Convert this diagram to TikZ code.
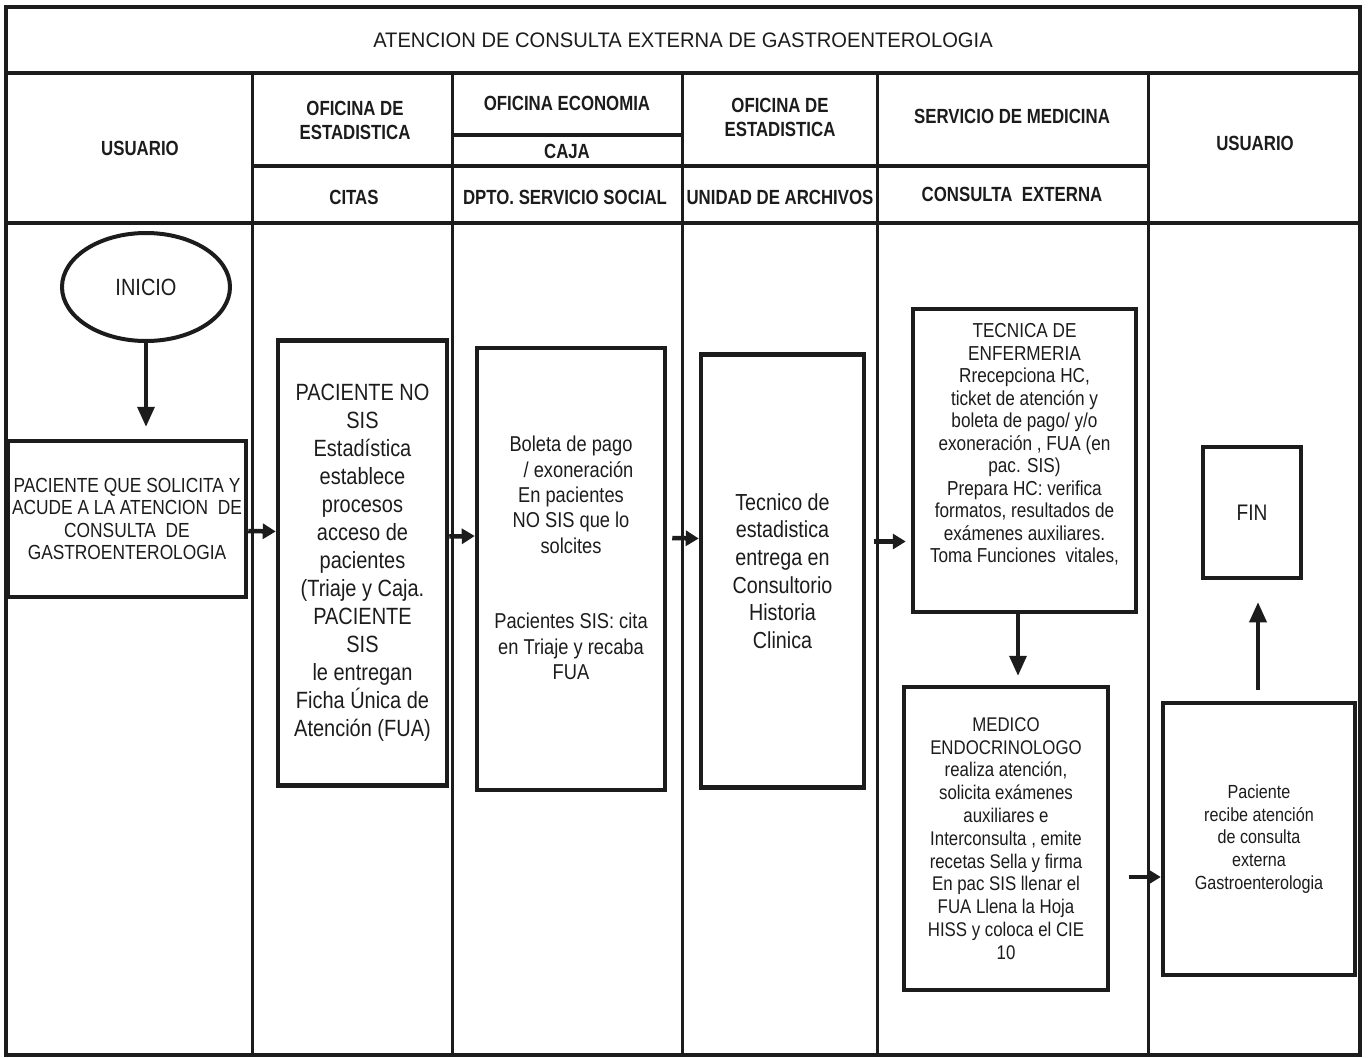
\documentclass[tikz,border=0pt]{standalone}
\usepackage{fontspec}
\setmainfont{Liberation Sans}[FakeStretch=0.85]
\newfontfamily\titlefont{Liberation Sans}[FakeStretch=0.96]
\newfontfamily\hdrfont{Liberation Sans}[FakeStretch=0.82]
\usetikzlibrary{arrows.meta,shapes.geometric}
\definecolor{ink}{HTML}{1C1C1C}

\begin{document}
\begin{tikzpicture}[x=1pt,y=-1pt,
  frameline/.style={draw=ink,line width=4.5pt},
  laneline/.style={draw=ink,line width=3pt},
  titletxt/.style={font=\titlefont\fontsize{21}{25}\selectfont,text=ink,inner sep=0},
  hdr/.style={font=\hdrfont\bfseries\fontsize{20.5}{24}\selectfont,align=center,text=ink,inner sep=0},
  procbox/.style={draw=ink,line width=4.5pt,align=center,text=ink,inner sep=0},
  bodytxt/.style={align=center,text=ink,inner sep=0},
  flow/.style={draw=ink,line width=4.5pt,-{Triangle[length=13pt,width=15pt]}},
  flowv/.style={draw=ink,line width=3.5pt,-{Triangle[length=20pt,width=17pt]}}]

\fill[white] (0,0) rectangle (1369,1058);
\useasboundingbox (0,0) rectangle (1369,1058);

% ---- table frame and swimlanes ----
\draw[laneline] (252,73) -- (252,1055);
\draw[laneline] (452,73) -- (452,1055);
\draw[laneline] (682,73) -- (682,1055);
\draw[laneline] (877,73) -- (877,1055);
\draw[laneline] (1148,73) -- (1148,1055);
\draw[frameline] (6,73) -- (1360,73);
\draw[frameline] (6,223) -- (1360,223);
\draw[draw=ink,line width=4pt] (252,166) -- (1148,166);
\draw[draw=ink,line width=4pt] (452,135) -- (682,135);
\draw[frameline] (6,7) rectangle (1360,1055);

% ---- title and lane headers ----
\node[titletxt] (title) at (683,40) {ATENCION DE CONSULTA EXTERNA DE GASTROENTEROLOGIA};

\node[hdr] (h1) at (140,148) {USUARIO};
\node[hdr] (h2) at (355,120) {OFICINA DE\\ESTADISTICA};
\node[hdr] (h3) at (567,103) {OFICINA ECONOMIA};
\node[hdr] (h3b) at (567,151) {CAJA};
\node[hdr] (h4) at (780,117) {OFICINA DE\\ESTADISTICA};
\node[hdr] (h5) at (1012,116) {SERVICIO DE MEDICINA};
\node[hdr] (h6) at (1255,143) {USUARIO};
\node[hdr] (s2) at (354,197) {CITAS};
\node[hdr] (s3) at (565,197) {DPTO. SERVICIO SOCIAL};
\node[hdr] (s4) at (780,197) {UNIDAD DE ARCHIVOS};
\node[hdr] (s5) at (1012,194) {CONSULTA\ \ EXTERNA};

% ---- process steps ----
\node[draw=ink,line width=4pt,ellipse,minimum width=168pt,minimum height=108pt,inner sep=0,
      text=ink,font=\fontsize{23.5}{27}\selectfont] (ini) at (146,287) {INICIO};

\node[procbox,minimum width=238pt,minimum height=156pt,font=\fontsize{20.4}{22.6}\selectfont]
  (b1) at (127,519) {PACIENTE QUE SOLICITA Y\\ACUDE A LA ATENCION\ \ DE\\CONSULTA\ \ DE\\GASTROENTEROLOGIA};

\node[procbox,minimum width=169pt,minimum height=445pt,font=\fontsize{23.5}{28}\selectfont]
  (b2) at (362.5,563) {PACIENTE NO\\SIS\\Estadística\\establece\\procesos\\acceso de\\pacientes\\(Triaje y Caja.\\PACIENTE\\SIS\\le entregan\\Ficha Única de\\Atención (FUA)};

\node[procbox,minimum width=188pt,minimum height=442pt] (b3) at (571,569) {};
\node[bodytxt,font=\fontsize{21.5}{25.3}\selectfont] (b3t) at (571,558)
  {Boleta de pago\\\hspace*{0.7em}/ exoneración\\En pacientes\\NO SIS que lo\\solcites\\[50.6pt]Pacientes SIS: cita\\en Triaje y recaba\\FUA};

\node[procbox,minimum width=163pt,minimum height=433pt,font=\fontsize{23.2}{27.7}\selectfont]
  (b4) at (782.5,571) {Tecnico de\\estadistica\\entrega en\\Consultorio\\Historia\\Clinica};

\node[procbox,minimum width=223pt,minimum height=303pt] (b5) at (1024.5,460.5) {};
\node[bodytxt,font=\fontsize{20.2}{22.5}\selectfont] (b5t) at (1024.5,444.5)
  {TECNICA DE\\ENFERMERIA\\Rrecepciona HC,\\ticket de atención y\\boleta de pago/ y/o\\exoneración , FUA (en\\pac. SIS)\\Prepara HC: verifica\\formatos, resultados de\\exámenes auxiliares.\\Toma Funciones\ \ vitales,};

\node[procbox,minimum width=204pt,minimum height=303pt,font=\fontsize{19.8}{22.8}\selectfont]
  (b6) at (1006,838.5) {MEDICO\\ENDOCRINOLOGO\\realiza atención,\\solicita exámenes\\auxiliares e\\Interconsulta , emite\\recetas Sella y firma\\En pac SIS llenar el\\FUA Llena la Hoja\\HISS y coloca el CIE\\10};

\node[procbox,minimum width=192pt,minimum height=272pt,font=\fontsize{19}{22.8}\selectfont]
  (b7) at (1259,839) {Paciente\\recibe atención\\de consulta\\externa\\Gastroenterologia};

\node[procbox,minimum width=98pt,minimum height=131pt,font=\fontsize{22.5}{26}\selectfont]
  (fin) at (1252,512.5) {FIN};

% ---- flow connectors ----
\draw[flowv] (ini.south) -- ([xshift=19pt,yshift=12pt]b1.north);
\draw[flow] ([yshift=-12pt]b1.east) -- ([yshift=31.5pt]b2.west);
\draw[flow] ([yshift=26.5pt]b2.east) -- ([yshift=33pt]b3.west);
\draw[flow] ([xshift=5pt,yshift=31pt]b3.east) -- ([yshift=32.5pt]b4.west);
\draw[flow] ([xshift=8pt,yshift=29.5pt]b4.east) -- ([xshift=-5pt,yshift=-81pt]b5.west);
\draw[flowv] ([xshift=-6.5pt]b5.south) -- ([xshift=12pt,yshift=9pt]b6.north);
\draw[flow] ([xshift=19pt,yshift=-38.5pt]b6.east) -- ([yshift=-38pt]b7.west);
\draw[flowv] ([xshift=-1pt,yshift=11pt]b7.north) -- ([xshift=6pt,yshift=-22pt]fin.south);
\end{tikzpicture}
\end{document}
